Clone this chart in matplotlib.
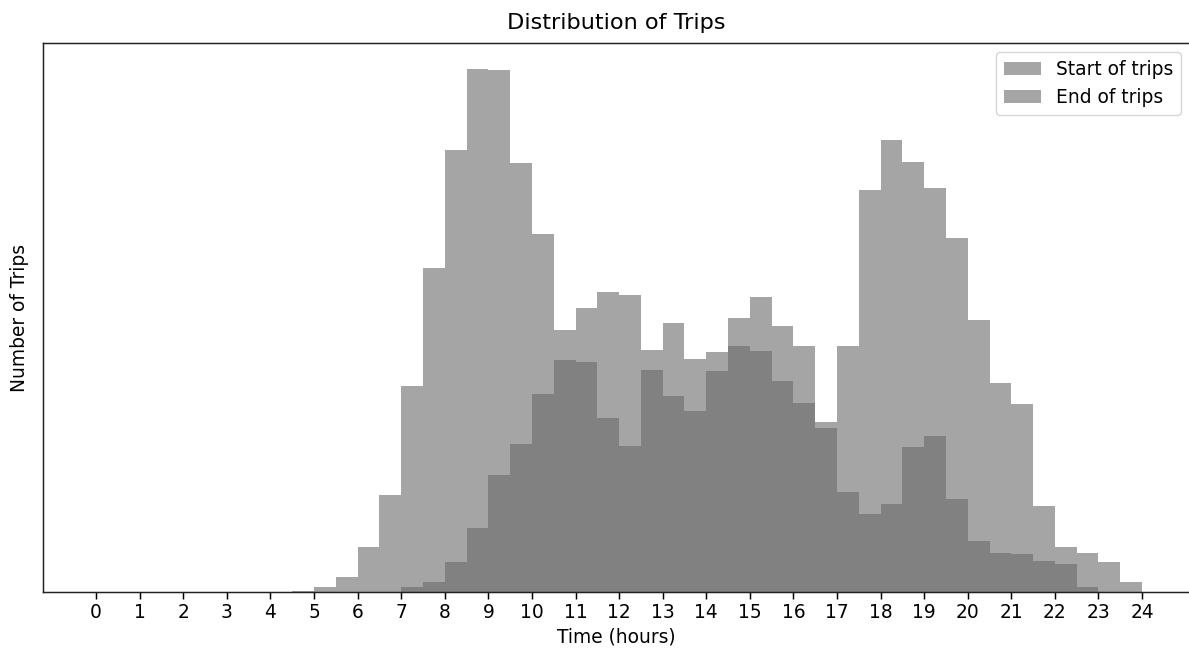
import matplotlib
matplotlib.use("Agg")
import matplotlib.pyplot as plt
import numpy as np

# half-hour bins from 0 to 24
bin_edges = np.arange(0, 24.5, 0.5)
bin_centers = bin_edges[:-1] + 0.25

# counts per half-hour bin
start_counts = [0, 0, 0, 0, 0, 0, 0, 0, 0, 1,
                5, 15, 45, 97, 206, 324, 442, 523, 522, 429,
                358, 262, 230, 174, 146, 222, 196, 181, 221, 246,
                241, 211, 189, 164, 246, 402, 452, 430, 404, 354,
                272, 209, 188, 86, 45, 39, 30, 10]
end_counts = [0, 0, 0, 0, 0, 0, 0, 0, 0, 0,
              0, 0, 0, 0, 5, 10, 30, 64, 117, 148,
              198, 232, 284, 300, 297, 242, 269, 233, 240, 274,
              295, 266, 246, 170, 100, 78, 88, 145, 156, 93,
              51, 39, 38, 31, 28, 5, 0, 0]
hours = list(range(25))

# everything looks like matplotlib defaults scaled up by ~1.34
s = 1.34
plt.rcParams['font.size'] = 10 * s
plt.rcParams['axes.linewidth'] = 0.8 * s
plt.rcParams['xtick.major.size'] = 3.5 * s
plt.rcParams['xtick.major.width'] = 0.8 * s
plt.rcParams['axes.edgecolor'] = '#222222'

fig = plt.figure(figsize=(11.89, 6.51), dpi=100)
ax = fig.add_axes([43 / 1189, 59 / 651, 1147 / 1189, 549 / 651])

ax.hist(bin_centers, bins=bin_edges, weights=start_counts,
        color='dimgray', alpha=0.6, label='Start of trips')
ax.hist(bin_centers, bins=bin_edges, weights=end_counts,
        color='dimgray', alpha=0.6, label='End of trips')

ax.set_xlim(-1.22, 25.1)
ax.set_xticks(hours)
ax.set_yticks([])
ax.set_xlabel('Time (hours)')
ax.set_ylabel('Number of Trips', labelpad=10)
ax.set_title('Distribution of Trips', fontsize=12 * s, pad=10)
ax.legend(loc='upper right')

fig.savefig('out.png', dpi=100)
